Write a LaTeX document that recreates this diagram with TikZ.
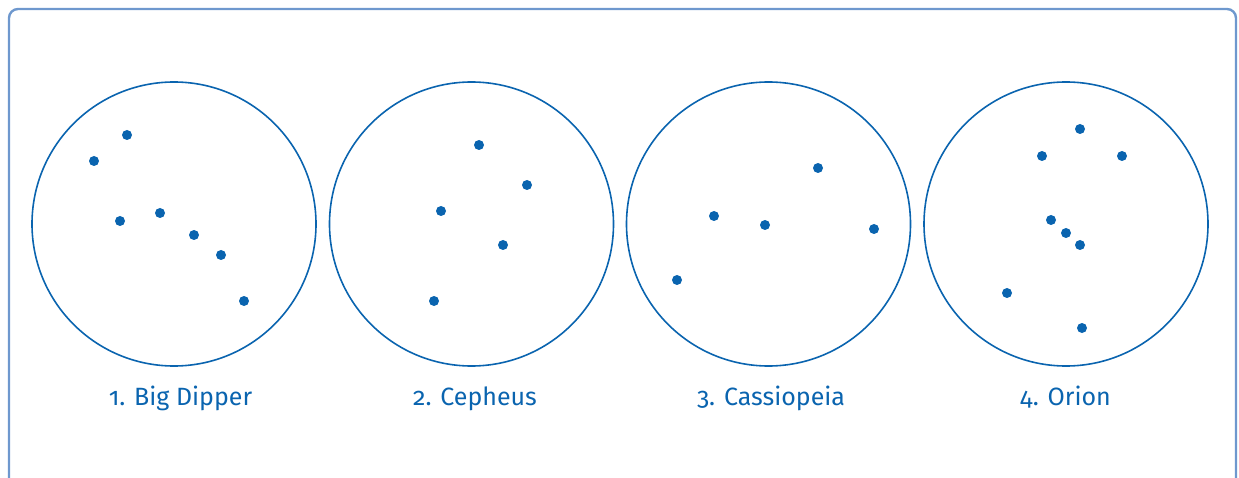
\documentclass[tikz,border=0pt]{standalone}
\usepackage{fontspec}
\setmainfont[Numbers=OldStyle]{Fira Sans}
\definecolor{starblue}{RGB}{10,100,175}
\definecolor{framebl}{RGB}{110,152,206}
\tikzset{
  sky/.style={draw=starblue, line width=1.6pt, circle, minimum size=284pt, inner sep=0pt},
  star/.style={circle, fill=starblue, inner sep=0pt, minimum size=10pt},
  caption/.style={text=starblue, font=\fontsize{25}{30}\selectfont, anchor=base}
}
\begin{document}
\begin{tikzpicture}[x=1pt,y=-1pt]
  \useasboundingbox (0,0) rectangle (1239,478);
  \begin{scope}
    \clip (0,0) rectangle (1239,478);
    \draw[framebl, line width=2.4pt, rounded corners=9pt] (9,9) rectangle (1236,520);
  \end{scope}

  % sky discs
  \node[sky] (c1) at (174,224) {};
  \node[sky] (c2) at (471.5,224) {};
  \node[sky] (c3) at (768.5,224) {};
  \node[sky] (c4) at (1066,224) {};

  % 1. Big Dipper
  \foreach \p [count=\i] in {(127,135),(94,161),(120,221),(160,213),(194,235),(221,255),(244,301)}
    \node[star] (bd\i) at \p {};
  % 2. Cepheus
  \foreach \p [count=\i] in {(479,145),(527,185),(441,211),(503,245),(434,301)}
    \node[star] (ce\i) at \p {};
  % 3. Cassiopeia
  \foreach \p [count=\i] in {(818,168),(714,216),(765,225),(874,229),(677,280)}
    \node[star] (ca\i) at \p {};
  % 4. Orion
  \foreach \p [count=\i] in {(1080,129),(1042,156),(1122,156),(1051,220),(1066,233),(1080,245),(1007,293),(1082,328)}
    \node[star] (or\i) at \p {};

  % captions
  \node[caption] (l1) at (180.5,405.5) {1. Big Dipper};
  \node[caption] (l2) at (475,405.5) {2. Cepheus};
  \node[caption] (l3) at (771,405.5) {3. Cassiopeia};
  \node[caption] (l4) at (1065.5,405.5) {4. Orion};
\end{tikzpicture}
\end{document}
